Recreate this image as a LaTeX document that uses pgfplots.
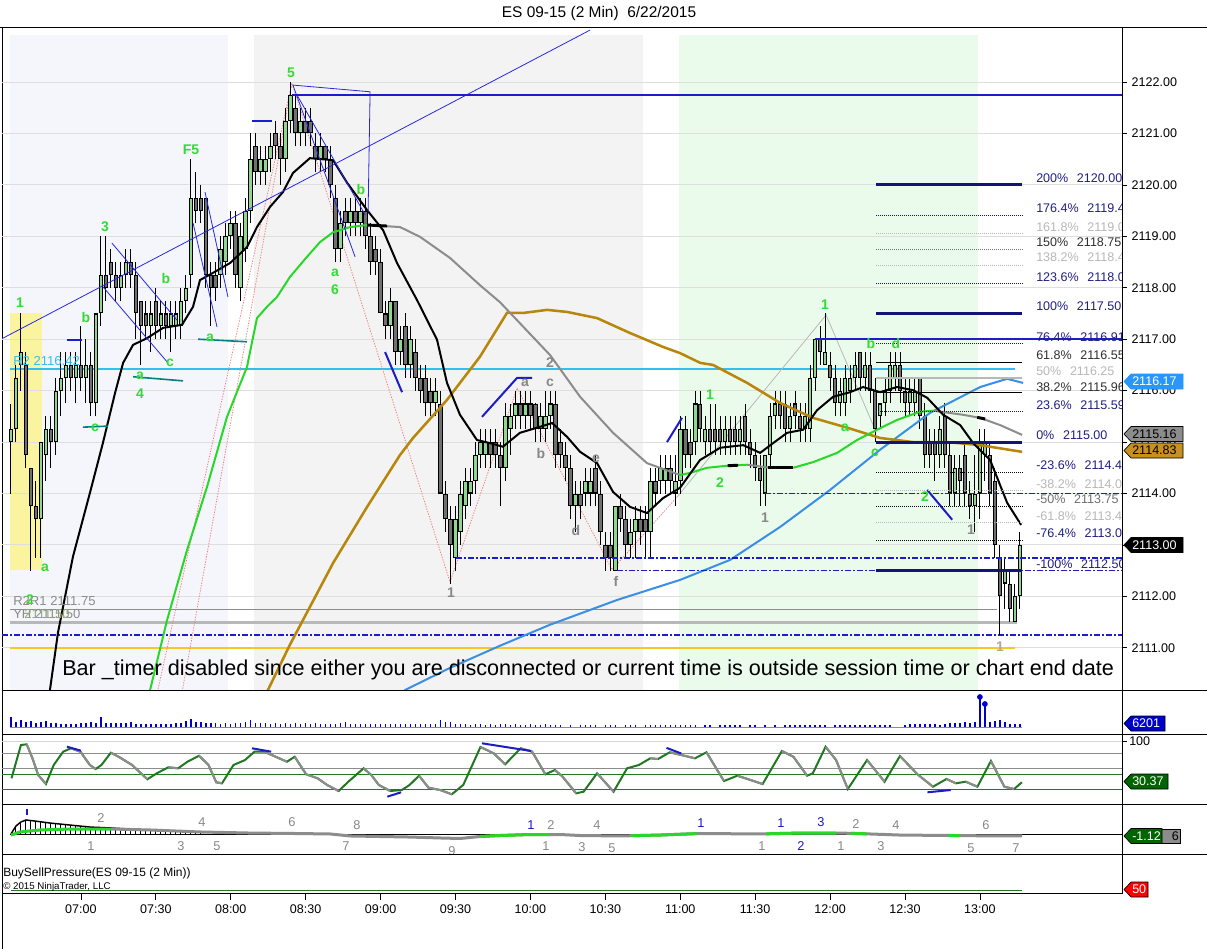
\documentclass[border=0pt]{standalone}
\usepackage{fontspec}
\setmainfont{Liberation Sans}
\usepackage{pgfplots}
\usepackage{pgfplotstable}
\pgfplotsset{compat=1.18}

\definecolor{bglav}{RGB}{244,246,252}
\definecolor{bggray}{RGB}{243,243,243}
\definecolor{bggreen}{RGB}{235,251,235}
\definecolor{bgyel}{RGB}{250,244,160}
\definecolor{cup}{RGB}{144,214,144}
\definecolor{cdn}{RGB}{112,112,112}
\definecolor{gridc}{RGB}{222,222,222}
\definecolor{lblue}{RGB}{51,190,240}
\definecolor{mablue}{RGB}{58,142,230}
\definecolor{brownma}{RGB}{184,134,11}
\definecolor{magreen}{RGB}{40,215,40}
\definecolor{magray}{RGB}{140,140,140}
\definecolor{lvlblue}{RGB}{28,28,200}
\definecolor{navy2}{RGB}{20,20,120}
\definecolor{navyt}{RGB}{32,32,130}
\definecolor{annG}{RGB}{50,220,50}
\definecolor{annGr}{RGB}{136,136,136}
\definecolor{oscg}{RGB}{34,120,34}
\definecolor{teal2}{RGB}{0,128,128}
\definecolor{pinkd}{RGB}{240,130,130}
\definecolor{gold2}{RGB}{245,200,40}
\definecolor{lgr}{RGB}{184,184,184}
\definecolor{dgr}{RGB}{48,48,48}
\definecolor{mgr}{RGB}{112,112,112}
\definecolor{thinblue}{RGB}{40,40,224}
\definecolor{volblue}{RGB}{0,0,204}
\definecolor{tagblue}{RGB}{40,150,250}
\definecolor{taggold}{RGB}{200,144,30}
\definecolor{taggreen}{RGB}{0,100,0}
\definecolor{digblue}{RGB}{24,24,200}

\newcommand\tf{\fontsize{9.4}{11}\selectfont}
\newcommand\af{\fontsize{10.5}{12}\selectfont\bfseries}
\newcommand\df{\fontsize{9.6}{11}\selectfont}

\pgfplotsset{panel/.style={scale only axis, width=840pt, xmin=388.4, xmax=836.9,
  anchor=north west, axis line style={line width=0.75pt, black}, xtick=\empty, ytick=\empty, clip=true},
  dd/.style={dash pattern=on 4.5pt off 1.5pt on 1.5pt off 1.5pt, line width=1.1pt, lvlblue},
  dots/.style={dash pattern=on 0.75pt off 0.75pt, line width=0.75pt},
  ebar/.style 2 args={draw=none, mark=none, error bars/.cd, y dir=plus, y explicit, error mark=none,
    error bar style={draw=#2, line width=#1, solid}}}

\pgfplotstableread{
t O H L C
392 2115.00 2115.75 2114.00 2115.25
394 2115.25 2116.50 2115.00 2116.25
396 2116.50 2117.50 2116.00 2116.75
398 2116.50 2116.75 2114.50 2114.75
400 2114.50 2114.50 2112.50 2113.75
402 2113.75 2114.25 2112.75 2113.50
404 2113.50 2115.00 2112.75 2115.00
406 2114.75 2115.50 2114.25 2115.25
408 2115.25 2115.50 2114.50 2115.00
410 2115.00 2116.25 2114.75 2116.00
412 2116.00 2116.75 2115.50 2116.25
414 2116.25 2116.75 2115.75 2116.50
416 2116.50 2116.75 2116.00 2116.25
418 2116.25 2116.75 2115.75 2116.50
420 2116.50 2117.25 2116.00 2116.25
422 2116.25 2117.00 2115.75 2116.50
424 2116.50 2116.75 2115.50 2115.75
426 2115.75 2117.50 2115.50 2117.50
428 2117.50 2119.00 2117.25 2118.25
430 2118.25 2119.00 2117.75 2118.00
432 2118.50 2118.75 2118.00 2118.25
434 2118.25 2118.50 2117.75 2118.00
436 2118.00 2118.50 2117.75 2118.25
438 2118.25 2118.75 2118.00 2118.50
440 2118.50 2118.75 2118.00 2118.25
442 2118.25 2118.50 2117.00 2117.50
444 2117.75 2117.75 2116.50 2117.25
446 2117.50 2117.75 2117.00 2117.25
448 2117.25 2117.75 2116.75 2117.50
450 2117.75 2118.00 2117.00 2117.25
452 2117.25 2117.75 2117.00 2117.50
454 2117.50 2117.75 2117.00 2117.25
456 2117.25 2117.75 2116.75 2117.50
458 2117.25 2117.75 2117.00 2117.50
460 2117.25 2118.00 2117.00 2117.75
462 2117.75 2118.25 2117.50 2118.00
464 2118.25 2120.50 2118.00 2119.75
466 2119.75 2120.25 2119.25 2119.50
468 2119.75 2120.00 2119.25 2119.50
470 2119.75 2119.75 2118.00 2118.25
472 2118.25 2118.50 2117.25 2118.00
474 2118.25 2118.50 2117.75 2118.00
476 2118.25 2119.00 2118.00 2118.75
478 2118.50 2119.25 2118.25 2119.00
480 2119.00 2119.50 2118.75 2119.25
482 2119.25 2119.50 2118.00 2118.25
484 2118.00 2119.25 2117.75 2119.00
486 2118.75 2119.75 2118.50 2119.50
488 2119.50 2121.00 2119.25 2120.50
490 2120.75 2121.00 2120.00 2120.25
492 2120.25 2120.75 2120.00 2120.50
494 2120.25 2120.75 2120.00 2120.50
496 2120.50 2121.00 2120.25 2120.75
498 2121.00 2121.25 2120.50 2120.75
500 2120.75 2121.00 2120.00 2120.50
502 2120.50 2121.50 2120.25 2121.25
504 2121.25 2122.00 2121.00 2121.75
506 2121.50 2121.75 2120.75 2121.00
508 2121.00 2121.50 2120.75 2121.25
510 2121.25 2121.50 2120.75 2121.00
512 2121.25 2121.50 2120.75 2121.00
514 2120.75 2121.00 2120.25 2120.50
516 2120.50 2121.00 2120.25 2120.75
518 2120.75 2120.75 2120.25 2120.50
520 2120.50 2120.75 2119.75 2120.00
522 2119.75 2120.00 2118.50 2118.75
524 2118.75 2119.50 2118.50 2119.25
526 2119.50 2119.75 2119.00 2119.25
528 2119.25 2119.75 2119.00 2119.50
530 2119.50 2119.75 2119.00 2119.25
532 2119.25 2119.75 2119.00 2119.50
534 2119.50 2119.75 2118.75 2119.00
536 2119.00 2119.25 2118.25 2118.50
538 2118.75 2119.00 2118.25 2118.50
540 2118.50 2118.75 2117.50 2117.50
542 2117.50 2117.75 2117.00 2117.25
544 2117.25 2118.00 2117.00 2117.75
546 2117.75 2117.75 2116.50 2116.75
548 2116.75 2117.25 2116.50 2117.00
550 2117.25 2117.50 2116.25 2116.50
552 2116.50 2117.25 2116.25 2117.00
554 2116.75 2117.00 2116.00 2116.25
556 2116.25 2116.50 2115.75 2116.00
558 2116.25 2116.50 2115.50 2115.75
560 2116.00 2116.25 2115.50 2115.75
562 2115.75 2116.25 2115.50 2116.00
564 2115.75 2116.00 2114.00 2114.00
566 2114.00 2114.25 2113.25 2113.50
568 2113.50 2113.75 2112.25 2113.00
570 2112.75 2113.75 2112.50 2113.50
572 2113.25 2114.25 2113.00 2114.00
574 2113.75 2114.50 2113.50 2114.25
576 2114.00 2114.50 2113.75 2114.25
578 2114.25 2115.00 2114.00 2114.75
580 2114.75 2115.25 2114.50 2115.00
582 2114.75 2115.25 2114.50 2115.00
584 2115.00 2115.25 2114.50 2114.75
586 2115.00 2115.25 2114.50 2114.75
588 2114.75 2115.00 2113.75 2114.50
590 2114.50 2115.75 2114.25 2115.50
592 2115.25 2115.75 2114.75 2115.50
594 2115.50 2116.00 2115.25 2115.75
596 2115.75 2116.00 2115.25 2115.50
598 2115.50 2116.00 2115.25 2115.75
600 2115.75 2116.00 2115.25 2115.50
602 2115.75 2115.75 2115.00 2115.25
604 2115.25 2115.75 2115.00 2115.50
606 2115.25 2116.00 2115.00 2115.50
608 2115.50 2116.00 2115.25 2115.75
610 2115.75 2116.00 2114.50 2114.75
612 2115.00 2115.25 2114.50 2114.75
614 2114.75 2115.00 2114.25 2114.50
616 2114.50 2114.75 2113.50 2113.75
618 2113.75 2114.25 2113.25 2114.00
620 2114.00 2114.25 2113.50 2113.75
622 2114.00 2114.50 2113.75 2114.25
624 2114.00 2114.50 2113.75 2114.25
626 2114.50 2114.75 2113.75 2114.00
628 2114.00 2114.25 2113.00 2113.25
630 2113.00 2113.25 2112.50 2112.75
632 2113.00 2113.25 2112.50 2112.75
634 2112.50 2113.75 2112.50 2113.75
636 2113.75 2114.00 2113.25 2113.50
638 2113.50 2113.75 2112.75 2113.00
640 2113.00 2113.50 2112.75 2113.25
642 2113.25 2113.75 2112.75 2113.50
644 2113.50 2113.75 2113.00 2113.25
646 2113.50 2113.75 2112.75 2113.25
648 2113.25 2114.50 2112.75 2114.25
650 2114.25 2114.50 2113.75 2114.00
652 2114.25 2114.75 2114.00 2114.50
654 2114.25 2114.75 2114.00 2114.50
656 2114.50 2114.75 2114.00 2114.25
658 2114.00 2114.75 2113.75 2114.25
660 2114.25 2115.50 2114.00 2115.25
662 2115.25 2115.50 2114.50 2114.75
664 2115.00 2115.25 2114.50 2114.75
666 2115.00 2116.00 2114.75 2115.75
668 2115.75 2116.00 2115.00 2115.25
670 2115.00 2115.50 2114.75 2115.25
672 2115.25 2115.75 2114.75 2115.00
674 2115.25 2115.75 2114.75 2115.00
676 2115.25 2115.50 2114.75 2115.00
678 2115.00 2115.50 2114.75 2115.25
680 2115.25 2115.50 2114.75 2115.00
682 2115.25 2115.50 2114.75 2115.00
684 2115.00 2115.50 2114.75 2115.25
686 2115.50 2115.75 2114.75 2115.00
688 2115.00 2115.25 2114.50 2114.75
690 2114.75 2115.00 2114.25 2114.50
692 2114.50 2114.75 2113.75 2114.25
694 2114.00 2114.75 2113.75 2114.75
696 2114.75 2115.75 2114.50 2115.50
698 2115.50 2116.00 2115.25 2115.75
700 2115.75 2116.00 2115.25 2115.50
702 2115.75 2116.00 2115.00 2115.25
704 2115.25 2115.75 2115.00 2115.50
706 2115.75 2116.00 2115.25 2115.50
708 2115.50 2115.75 2115.00 2115.25
710 2115.25 2115.75 2115.00 2115.50
712 2115.25 2116.50 2115.00 2116.25
714 2116.25 2117.00 2116.00 2117.00
716 2117.00 2117.25 2116.50 2116.75
718 2116.50 2117.50 2116.50 2116.75
720 2116.50 2116.75 2116.00 2116.25
722 2116.25 2116.50 2115.50 2115.75
724 2115.75 2116.25 2115.50 2116.00
726 2115.75 2116.50 2115.50 2116.25
728 2116.00 2116.50 2115.75 2116.25
730 2116.25 2116.75 2116.00 2116.50
732 2116.75 2116.75 2116.00 2116.25
734 2116.25 2116.75 2116.00 2116.50
736 2116.50 2116.75 2115.75 2116.00
738 2116.00 2116.25 2115.00 2115.25
740 2115.50 2115.75 2115.25 2115.75
742 2115.75 2116.25 2115.50 2116.00
744 2116.00 2116.75 2115.75 2116.50
746 2116.25 2116.75 2116.00 2116.50
748 2116.50 2116.75 2115.75 2116.00
750 2116.00 2116.25 2115.50 2115.75
752 2115.75 2116.25 2115.50 2116.00
754 2115.75 2116.25 2115.50 2116.00
756 2116.25 2116.25 2115.25 2115.50
758 2115.50 2115.75 2114.50 2114.75
760 2115.00 2115.25 2114.50 2114.75
762 2115.00 2115.25 2114.25 2114.75
764 2114.75 2115.50 2114.50 2115.25
766 2115.50 2115.75 2114.50 2114.75
768 2114.75 2115.00 2113.75 2114.00
770 2114.00 2114.75 2113.75 2114.50
772 2114.50 2114.75 2113.75 2114.25
774 2114.75 2115.00 2113.75 2114.00
776 2114.00 2114.25 2113.50 2113.75
778 2113.75 2114.75 2113.25 2114.00
780 2114.00 2115.25 2113.50 2115.00
782 2114.75 2115.25 2114.25 2115.00
784 2114.75 2115.00 2113.75 2114.00
786 2114.25 2114.50 2112.75 2113.00
788 2112.75 2113.00 2111.25 2112.00
790 2112.25 2112.75 2111.75 2112.50
792 2112.25 2112.50 2111.50 2111.75
794 2111.50 2112.25 2111.50 2112.00
796 2112.00 2113.25 2111.75 2113.00
}\bars

\pgfplotstableread{
t V
392 17700
394 8850
396 12390
398 8850
400 10620
402 7080
404 8850
406 10620
408 7080
410 7080
412 5310
414 5310
416 5310
418 5310
420 7080
422 7080
424 8850
426 7080
428 17700
430 7080
432 7080
434 7080
436 7080
438 7080
440 8850
442 5310
444 5310
446 5310
448 5310
450 5310
452 5310
454 5310
456 5310
458 7080
460 7080
462 10620
464 14160
466 8850
468 8850
470 7080
472 7080
474 7080
476 5310
478 7080
480 5310
482 7080
484 7080
486 8850
488 12390
490 7080
492 7080
494 7080
496 5310
498 7080
500 5310
502 7080
504 5310
506 7080
508 5310
510 7080
512 5310
514 7080
516 5310
518 5310
520 5310
522 5310
524 7080
526 8850
528 5310
530 5310
532 5310
534 5310
536 5310
538 5310
540 5310
542 5310
544 5310
546 5310
548 5310
550 5310
552 5310
554 5310
556 5310
558 5310
560 5310
562 5310
564 12390
566 8850
568 8850
570 5310
572 5310
574 5310
576 3540
578 5310
580 5310
582 3540
584 5310
586 3540
588 5310
590 5310
592 3540
594 5310
596 3540
598 3540
600 5310
602 3540
604 3540
606 5310
608 3540
610 3540
612 3540
614 0
616 3540
618 0
620 3540
622 3540
624 3540
626 3540
628 0
630 3540
632 3540
634 3540
636 0
638 3540
640 3540
642 3540
644 0
646 3540
648 3540
650 3540
652 3540
654 3540
656 3540
658 3540
660 3540
662 3540
664 3540
666 3540
668 0
670 3540
672 3540
674 0
676 3540
678 3540
680 3540
682 3540
684 3540
686 0
688 3540
690 3540
692 0
694 3540
696 0
698 3540
700 0
702 3540
704 3540
706 3540
708 3540
710 3540
712 3540
714 3540
716 3540
718 3540
720 0
722 3540
724 3540
726 3540
728 3540
730 3540
732 3540
734 3540
736 3540
738 3540
740 3540
742 3540
744 3540
746 0
748 0
750 3540
752 5310
754 5310
756 5310
758 5310
760 5310
762 5310
764 3540
766 5310
768 7080
770 7080
772 7080
774 8850
776 7080
778 8850
780 53100
782 40710
784 8850
786 10620
788 12390
790 8850
792 5310
794 5310
796 6201
}\vol

\newcommand\gl[3]{\node[text=annG, font=\af, inner sep=0] at (#1,-#2) {#3};}
\newcommand\grl[3]{\node[text=annGr, font=\af, inner sep=0] at (#1,-#2) {#3};}
\newcommand\dg[4]{\node[text=#4, font=\df, inner sep=0] at (#1,-#2) {#3};}
\newcommand\ptag[6]{%
  \filldraw[fill=#3, draw=#6, line width=0.5pt] (1124,-#1) -- (1131,-#1+7.5) -- (#2,-#1+7.5) -- (#2,-#1-7.5) -- (1131,-#1-7.5) -- cycle;
  \node[text=#4, font=\tf, anchor=west, inner sep=0] at (1132,-#1) {#5};}
\newcommand\fl[4]{\node[text=#3, font=\tf, anchor=west, inner sep=0] at (1036,-#1) {#2\hspace{6.5pt}#4};}

\begin{document}
\begin{tikzpicture}[x=0.75pt,y=0.75pt]
\path[use as bounding box] (0,0) rectangle (1207,-949);
\fill[white] (0,0) rectangle (1207,-949);

% ================= MAIN PRICE PANEL =================
\begin{axis}[panel, at={(1.5pt,-21pt)}, height=496.5pt, ymin=2110.18, ymax=2123.05,
  ytick={2111,2112,...,2122}, ytick pos=right, yticklabel pos=right, tick align=outside,
  major tick length=3.75pt, tick style={black, line width=0.6pt},
  yticklabel style={font=\tf},
  /pgf/number format/fixed, /pgf/number format/fixed zerofill,
  /pgf/number format/precision=2, /pgf/number format/1000 sep={},
  /pgf/number format/assume math mode=true]
\fill[bglav] (axis cs:391.6,2110.0) rectangle (axis cs:478.9,2122.91);
\fill[bggray] (axis cs:489.3,2110.0) rectangle (axis cs:645.1,2122.91);
\fill[bggreen] (axis cs:659.5,2110.0) rectangle (axis cs:779.3,2122.91);
\fill[bgyel] (axis cs:391.6,2112.51) rectangle (axis cs:404.4,2117.51);
\pgfplotsinvokeforeach{2111,2112,...,2122}{\draw[gridc, line width=0.75pt] (axis cs:388.4,#1) -- (axis cs:836.9,#1);}

% static levels
\addplot[lblue, line width=1.5pt] coordinates {(391.6,2116.42) (794.1,2116.42)};
\addplot[magray, line width=0.75pt] coordinates {(391.6,2111.75) (786.9,2111.75)};
\addplot[color=lgr, line width=2.25pt] coordinates {(391.6,2111.50) (794.9,2111.50)};
\addplot[gold2, line width=1.5pt] coordinates {(391.6,2111.00) (794.1,2111.00)};
\addplot[dd] coordinates {(388.4,2111.25) (836.9,2111.25)};

% pink dotted zigzag and gray thin zigzag
\addplot[pinkd, dash pattern=on 1pt off 1pt, line width=0.6pt] coordinates {(450.0,2110.0) (504.5,2121.98) (567.8,2112.28) (594.7,2116.05) (632.7,2112.52) (658.7,2113.93)};
\addplot[pinkd, dash pattern=on 1pt off 1pt, line width=0.6pt] coordinates {(460.0,2110.0) (504.5,2121.98)};
\addplot[lgr, line width=0.6pt] coordinates {(658.7,2113.93) (718.4,2117.47) (738.4,2115.20)};

% candles: wicks, body outlines, up bodies, down bodies
\addplot[ebar={0.75pt}{black}]
  table[x=t, y=L, y error plus expr={\thisrow{H}-\thisrow{L}}] {\bars};
\addplot[ebar={3.4pt}{black}]
  table[x=t, y expr={min(\thisrow{O},\thisrow{C})}, y error plus expr={abs(\thisrow{C}-\thisrow{O})}] {\bars};
\addplot[ebar={1.9pt}{cup}]
  table[x=t, y expr={\thisrow{O}+0.02}, y error plus expr={max(\thisrow{C}-\thisrow{O}-0.04,0)}] {\bars};
\addplot[ebar={1.9pt}{cdn}]
  table[x=t, y expr={\thisrow{C}+0.02}, y error plus expr={max(\thisrow{O}-\thisrow{C}-0.04,0)}] {\bars};

% moving averages
\addplot[mablue, line width=1.5pt] coordinates {(547.0,2110.0) (549.8,2110.18) (567.8,2110.61) (587.8,2111.04) (607.9,2111.45) (634.7,2111.93) (659.9,2112.32) (680.0,2112.71) (700.0,2113.35) (720.0,2114.07) (740.0,2114.85) (760.1,2115.57) (780.1,2116.07) (790.9,2116.23) (797.3,2116.15)};
\addplot[brownma, line width=1.9pt] coordinates {(493.8,2110.0) (494.9,2110.18) (503.7,2111.06) (521.0,2112.65) (534.6,2113.74) (547.8,2114.75) (553.0,2115.08) (566.6,2115.82) (579.8,2116.66) (590.6,2117.51) (597.1,2117.51) (606.7,2117.57) (614.7,2117.53) (626.7,2117.41) (639.9,2117.12) (653.1,2116.85) (659.9,2116.73) (668.0,2116.54) (673.1,2116.50) (686.8,2116.15) (700.0,2115.76) (713.2,2115.47) (726.8,2115.28) (740.0,2115.08) (753.2,2115.00) (766.9,2115.00) (780.1,2114.94) (796.9,2114.81)};
\addplot[magreen, line width=1.5pt] coordinates {(447.0,2110.0) (447.7,2110.18) (454.5,2111.54) (462.5,2112.90) (470.5,2114.13) (478.5,2115.49) (486.5,2116.46) (490.5,2117.41) (494.5,2117.63) (498.5,2117.82) (503.7,2118.21) (510.5,2118.60) (515.8,2118.89) (521.0,2119.08) (527.8,2119.18) (534.6,2119.22)};
\addplot[magray, line width=1.5pt] coordinates {(534.6,2119.22) (547.8,2119.18) (555.8,2118.99) (567.8,2118.58) (579.8,2118.05) (587.8,2117.72) (607.9,2116.69) (619.9,2115.88) (633.1,2115.18) (646.7,2114.59) (659.9,2114.36)};
\addplot[magreen, line width=1.5pt] coordinates {(659.9,2114.36) (663.9,2114.40) (670.7,2114.50) (678.8,2114.54) (686.8,2114.56)};
\addplot[magray, line width=1.5pt] coordinates {(686.8,2114.56) (696.0,2114.50) (705.2,2114.50)};
\addplot[magreen, line width=1.5pt] coordinates {(705.2,2114.50) (713.2,2114.61) (722.8,2114.79) (730.8,2115.04) (738.8,2115.24) (746.8,2115.43) (756.0,2115.59) (761.3,2115.61)};
\addplot[magray, line width=1.5pt] coordinates {(761.3,2115.61) (773.3,2115.53) (780.1,2115.47) (788.1,2115.33) (796.9,2115.14)};
\addplot[black, line width=2.2pt] coordinates {(534.6,2119.22) (542.6,2119.20)};
\addplot[black, line width=2.2pt] coordinates {(679.0,2114.54) (683.2,2114.55)};
\addplot[black, line width=2.2pt] coordinates {(695.2,2114.50) (705.2,2114.50)};
\addplot[black, line width=2.2pt] coordinates {(778.9,2115.48) (782.1,2115.45)};
\addplot[black, line width=1.5pt] coordinates {(407.0,2110.0) (407.6,2110.18) (410.8,2111.29) (416.8,2112.77) (423.6,2114.01) (428.8,2114.98) (433.7,2115.96) (436.9,2116.54) (440.9,2116.89) (446.5,2117.02) (452.9,2117.22) (460.5,2117.28) (464.9,2117.63) (467.7,2118.15) (472.9,2118.29) (479.7,2118.48) (486.5,2118.79) (490.5,2119.18) (495.7,2119.57) (500.9,2119.86) (504.9,2120.23) (511.7,2120.52) (521.0,2120.48) (526.6,2120.04) (534.6,2119.51) (541.0,2119.12) (546.6,2118.48) (554.6,2117.76) (562.6,2116.99) (566.6,2116.15) (571.8,2115.53) (578.6,2115.04) (583.8,2114.98) (589.0,2114.91) (595.8,2115.18) (602.7,2115.28) (608.7,2115.37) (614.7,2115.10) (619.9,2114.81) (626.7,2114.59) (633.1,2114.03) (639.9,2113.74) (646.7,2113.62) (653.1,2113.91) (659.9,2114.11) (667.9,2114.65) (676.0,2114.89) (685.2,2114.94) (692.0,2114.79) (697.2,2114.98) (702.8,2115.18) (709.2,2115.24) (714.8,2115.62) (721.2,2115.88) (728.0,2115.97) (733.2,2116.07) (740.0,2115.97) (746.8,2116.07) (753.2,2116.01) (758.9,2115.86) (765.3,2115.53) (772.1,2115.33) (777.3,2114.98) (784.1,2114.65) (790.9,2113.82) (796.5,2113.39)};

% thin blue trend lines
\addplot[thinblue, line width=0.6pt] coordinates {(387.6,2116.99) (623.9,2123.01)};
\addplot[thinblue, line width=0.6pt] coordinates {(504.9,2121.94) (535.8,2121.81) (535.0,2119.47)};
\addplot[thinblue, line width=0.6pt] coordinates {(504.9,2121.94) (529.8,2118.60)};
\addplot[thinblue, line width=0.6pt] coordinates {(506.5,2121.75) (533.8,2119.42)};
\addplot[thinblue, line width=0.6pt] coordinates {(432.4,2118.87) (458.5,2117.37)};
\addplot[thinblue, line width=0.6pt] coordinates {(428.8,2118.02) (454.5,2116.56)};
\addplot[thinblue, line width=0.6pt] coordinates {(464.9,2119.26) (474.5,2117.24)};
\addplot[thinblue, line width=0.6pt] coordinates {(469.7,2119.86) (478.9,2117.82)};
% thick blue marks
\addplot[lvlblue, line width=1.5pt] coordinates {(488.5,2121.24) (496.5,2121.24)};
\addplot[lvlblue, line width=1.5pt] coordinates {(414.4,2116.99) (420.4,2116.99)};
\addplot[lvlblue, line width=1.5pt] coordinates {(541.8,2116.75) (548.6,2115.97)};
\addplot[lvlblue, line width=1.5pt] coordinates {(580.6,2115.49) (594.7,2116.25) (600.7,2116.25)};
\addplot[lvlblue, line width=1.5pt] coordinates {(654.7,2115.00) (660.7,2115.47)};
\addplot[lvlblue, line width=1.5pt] coordinates {(758.9,2114.07) (768.9,2113.49)};
% teal marks
\addplot[teal2, line width=1.2pt] coordinates {(466.9,2117.00) (486.5,2116.95)};
\addplot[teal2, line width=1.2pt] coordinates {(440.9,2116.27) (460.9,2116.19)};
\addplot[teal2, line width=1.2pt] coordinates {(420.8,2115.29) (430.8,2115.31)};

% blue levels
\addplot[lvlblue, line width=1.5pt] coordinates {(504.5,2121.75) (836.9,2121.75)};
\addplot[lvlblue, line width=1.5pt] coordinates {(714.0,2117.00) (836.9,2117.00)};
\addplot[dd] coordinates {(570.2,2112.75) (836.9,2112.75)};
\addplot[dd] coordinates {(634.7,2112.50) (836.9,2112.50)};
\addplot[dd] coordinates {(694.0,2114.00) (836.9,2114.00)};

% fibonacci levels
\addplot[navy2, line width=2.25pt] coordinates {(738.4,2120.00) (796.9,2120.00)};
\addplot[navy2, dots] coordinates {(738.4,2119.41) (796.9,2119.41)};
\addplot[lgr, dots] coordinates {(738.4,2119.06) (796.9,2119.06)};
\addplot[mgr, dots] coordinates {(738.4,2118.75) (796.9,2118.75)};
\addplot[lgr, dots] coordinates {(738.4,2118.44) (796.9,2118.44)};
\addplot[navy2, dots] coordinates {(738.4,2118.09) (796.9,2118.09)};
\addplot[navy2, line width=2.25pt] coordinates {(738.4,2117.50) (796.9,2117.50)};
\addplot[navy2, dots] coordinates {(738.4,2116.91) (796.9,2116.91)};
\addplot[black, line width=0.75pt] coordinates {(738.4,2116.55) (796.9,2116.55)};
\addplot[lgr, line width=1.5pt] coordinates {(738.4,2116.25) (796.9,2116.25)};
\addplot[black, line width=0.75pt] coordinates {(738.4,2115.96) (796.9,2115.96)};
\addplot[navy2, dots] coordinates {(738.4,2115.59) (796.9,2115.59)};
\addplot[navy2, line width=2.25pt] coordinates {(738.4,2115.00) (796.9,2115.00)};
\addplot[black, dots] coordinates {(738.4,2114.41) (796.9,2114.41)};
\addplot[lgr, dots] coordinates {(738.4,2114.06) (796.9,2114.06)};
\addplot[black, dots] coordinates {(738.4,2113.75) (796.9,2113.75)};
\addplot[lgr, dots] coordinates {(738.4,2113.44) (796.9,2113.44)};
\addplot[black, dots] coordinates {(738.4,2113.09) (796.9,2113.09)};
\addplot[navy2, line width=2.25pt] coordinates {(738.4,2112.50) (796.9,2112.50)};
\end{axis}

% ================= VOLUME =================
\begin{axis}[panel, at={(1.5pt,-517.5pt)}, height=33pt, ymin=-12390, ymax=65490]
\addplot[magray, line width=0.75pt] coordinates {(391.6,0) (796.9,0)};
\addplot[ebar={1.1pt}{volblue}] table[x=t, y expr=0, y error plus=V] {\vol};
\addplot[only marks, mark=*, mark size=1.9pt, volblue] coordinates {(780,53100) (782,40710)};
\end{axis}

% ================= OSCILLATOR =================
\begin{axis}[panel, at={(1.5pt,-550.5pt)}, height=52.5pt, ymin=-5, ymax=111.7]
\addplot[color={rgb,255:red,215;green,215;blue,215}, line width=0.75pt] coordinates {(388.4,100) (836.9,100)};
\addplot[magray, line width=0.75pt] coordinates {(388.4,80) (836.9,80)};
\addplot[magray, line width=0.75pt] coordinates {(388.4,55) (836.9,55)};
\addplot[oscg, line width=0.75pt] coordinates {(388.4,45) (836.9,45)};
\addplot[oscg, line width=0.75pt] coordinates {(388.4,20) (836.9,20)};
\addplot[oscg, line width=1.5pt] coordinates {(392.2,37.8) (396.0,93.4) (398.3,94.5) (400.6,71.2) (402.9,43.3) (406.0,28.3) (409.1,60.0) (412.9,82.2) (416.0,87.9) (419.8,82.2) (423.6,60.0) (425.9,53.3) (428.2,60.0) (432.0,80.5) (435.1,73.8) (440.5,60.0) (446.6,36.2) (450.4,46.2) (455.0,56.2) (458.9,54.5) (462.7,65.5) (467.3,75.5) (471.1,60.0) (474.2,31.2) (476.5,29.5) (481.1,60.0) (485.7,68.3) (489.5,82.2) (493.4,82.2) (496.4,76.7) (502.5,65.5) (505.6,73.8) (510.2,44.5) (514.8,37.8) (518.6,26.7) (523.2,16.7) (527.1,32.2) (533.2,54.5) (536.3,43.3) (539.3,26.7) (543.9,16.7) (548.5,18.3) (551.6,26.7) (555.4,42.2) (559.2,22.2) (563.9,18.3) (568.5,11.2) (573.1,26.7) (580.0,90.0) (585.3,79.5) (589.9,61.2) (596.1,87.9) (600.7,82.2) (606.0,44.5) (609.8,51.7) (612.9,40.5) (618.3,12.8) (621.3,15.5) (626.7,46.2) (633.3,15.5) (638.7,54.5) (643.4,60.0) (648.0,71.2) (651.1,70.0) (655.8,81.2) (660.4,76.7) (665.9,71.2) (670.5,81.2) (677.5,33.3) (682.9,42.2) (693.0,28.3) (700.7,83.4) (705.3,73.8) (710.8,42.2) (713.1,46.2) (718.2,90.5) (722.4,68.3) (727.1,20.0) (734.8,68.3) (741.8,32.2) (748.0,75.0) (755.0,44.5) (761.2,23.8) (766.6,36.7) (770.4,29.5) (774.3,32.2) (779.0,23.8) (784.4,66.7) (789.8,23.8) (793.7,20.0) (796.8,31.2)};
\pgfplotsset{gseg/.style={magray, line width=1.5pt}}
\addplot[gseg] coordinates {(398.3,94.5) (400.6,71.2) (402.9,43.3) (406.0,28.3)};
\addplot[gseg] coordinates {(416.0,87.9) (419.8,82.2) (423.6,60.0) (425.9,53.3)};
\addplot[gseg] coordinates {(432.0,80.5) (435.1,73.8) (440.5,60.0) (446.6,36.2)};
\addplot[gseg] coordinates {(455.0,56.2) (458.9,54.5)};
\addplot[gseg] coordinates {(467.3,75.5) (471.1,60.0) (474.2,31.2) (476.5,29.5)};
\addplot[gseg] coordinates {(493.4,82.2) (496.4,76.7) (502.5,65.5)};
\addplot[gseg] coordinates {(505.6,73.8) (510.2,44.5) (514.8,37.8) (518.6,26.7) (523.2,16.7)};
\addplot[gseg] coordinates {(533.2,54.5) (536.3,43.3) (539.3,26.7) (543.9,16.7)};
\addplot[gseg] coordinates {(555.4,42.2) (559.2,22.2) (563.9,18.3) (568.5,11.2)};
\addplot[gseg] coordinates {(580.0,90.0) (585.3,79.5) (589.9,61.2)};
\addplot[gseg] coordinates {(596.1,87.9) (600.7,82.2) (606.0,44.5)};
\addplot[gseg] coordinates {(609.8,51.7) (612.9,40.5) (618.3,12.8)};
\addplot[gseg] coordinates {(626.7,46.2) (633.3,15.5)};
\addplot[gseg] coordinates {(648.0,71.2) (651.1,70.0)};
\addplot[gseg] coordinates {(655.8,81.2) (660.4,76.7) (665.9,71.2)};
\addplot[gseg] coordinates {(670.5,81.2) (677.5,33.3)};
\addplot[gseg] coordinates {(682.9,42.2) (693.0,28.3)};
\addplot[gseg] coordinates {(700.7,83.4) (705.3,73.8) (710.8,42.2)};
\addplot[gseg] coordinates {(718.2,90.5) (722.4,68.3) (727.1,20.0)};
\addplot[gseg] coordinates {(734.8,68.3) (741.8,32.2)};
\addplot[gseg] coordinates {(748.0,75.0) (755.0,44.5) (761.2,23.8)};
\addplot[gseg] coordinates {(766.6,36.7) (770.4,29.5)};
\addplot[gseg] coordinates {(774.3,32.2) (779.0,23.8)};
\addplot[gseg] coordinates {(784.4,66.7) (789.8,23.8) (793.7,20.0)};
\addplot[lvlblue, line width=1.5pt] coordinates {(414.4,90.6) (420.0,83.9)};
\addplot[lvlblue, line width=1.5pt] coordinates {(488.5,87.9) (496.2,82.2)};
\addplot[lvlblue, line width=1.5pt] coordinates {(542.7,7.2) (548.2,14.5)};
\addplot[lvlblue, line width=1.5pt] coordinates {(580.6,96.2) (600.3,83.4)};
\addplot[lvlblue, line width=1.5pt] coordinates {(654.5,88.6) (660.4,79.2)};
\addplot[lvlblue, line width=1.5pt] coordinates {(759.0,14.5) (768.3,18.3)};
\end{axis}

% ================= THIRD PANEL =================
\begin{axis}[panel, at={(1.5pt,-603pt)}, height=37.5pt, ymin=-14.625, ymax=22.875]
\addplot[black, line width=0.75pt] coordinates {(391.6,0) (836.9,0)};
\addplot[ebar={0.75pt}{black}] coordinates {
(394,0) +- (0,6.4) (396,0) +- (0,9.4) (398,0) +- (0,10.9) (400,0) +- (0,10.5) (402,0) +- (0,10.0)
(404,0) +- (0,9.5) (406,0) +- (0,9.0) (408,0) +- (0,8.6) (410,0) +- (0,8.3) (412,0) +- (0,8.0)
(414,0) +- (0,7.6) (416,0) +- (0,7.1) (418,0) +- (0,6.8) (420,0) +- (0,6.5) (422,0) +- (0,6.2)
(424,0) +- (0,5.6) (426,0) +- (0,5.4) (428,0) +- (0,5.2) (430,0) +- (0,5.0) (432,0) +- (0,4.9)
(434,0) +- (0,4.7) (436,0) +- (0,4.5) (438,0) +- (0,4.3) (440,0) +- (0,4.1) (442,0) +- (0,4.0)
(444,0) +- (0,3.8) (446,0) +- (0,3.6) (448,0) +- (0,3.4) (450,0) +- (0,3.2) (452,0) +- (0,3.0)
(454,0) +- (0,2.9) (456,0) +- (0,2.7) (458,0) +- (0,2.5) (460,0) +- (0,2.4) (462,0) +- (0,2.2)
(464,0) +- (0,2.1) (466,0) +- (0,2.0) (468,0) +- (0,1.9)};
\addplot[black, line width=1.1pt] coordinates {(392,0.4) (394,6.4) (396,9.4) (398,10.9) (401.6,10.1) (407.6,8.6) (415.6,7.1) (423.6,5.6) (432,4.9) (439.7,4.1)};
\addplot[magray, line width=2.25pt] coordinates {(432.0,4.1) (447.7,3.4) (467.7,1.9) (487.7,1.1) (503.7,0.8) (519.8,0.4) (527.8,-1.1) (539.8,-1.5) (551.8,-1.9) (563.8,-2.6) (571.8,-3.0) (579.8,-1.5) (587.8,-0.75) (599.9,0) (611.9,0) (619.9,-0.75) (635.9,-1.1) (651.9,-0.4) (667.9,0.75) (691.9,0.4) (708.0,1.1) (724.0,1.1) (736.0,0.4) (748.0,-0.4) (768.1,-0.75) (788.1,-1.1) (796.9,-1.1)};
\addplot[magreen, line width=2.25pt] coordinates {(392,-0.4) (395.6,1.9) (403.6,3.4) (415.6,4.1) (432,4.1)};
\addplot[magreen, line width=2.25pt] coordinates {(579.8,-1.5) (587.8,-0.75) (599.9,0) (607.9,0)};
\addplot[magreen, line width=2.25pt] coordinates {(640.3,-0.9) (651.9,-0.4) (666.7,0.7)};
\addplot[magreen, line width=2.25pt] coordinates {(694.4,0.5) (708.0,1.1) (722.4,1.1)};
\addplot[magreen, line width=2.25pt] coordinates {(728.4,0.9) (734.8,0.5)};
\addplot[magreen, line width=2.25pt] coordinates {(767.3,-0.7) (772.1,-0.8)};
\end{axis}

% ================= BUY SELL PRESSURE =================
\begin{axis}[panel, at={(1.5pt,-640.5pt)}, height=29.25pt, ymin=47, ymax=86,
  xtick={420,450,...,780},
  xticklabels={07:00,07:30,08:00,08:30,09:00,09:30,10:00,10:30,11:00,11:30,12:00,12:30,13:00},
  xtick pos=bottom, tick align=outside, major tick length=5.25pt,
  tick style={black, line width=0.6pt}, xticklabel style={font=\tf}]
\addplot[oscg, line width=0.75pt] coordinates {(392,50) (796.9,50)};
\end{axis}

% ================= FRAME EXTRAS =================
\draw[line width=0.75pt] (0,-27.5) -- (1207,-27.5);
\draw[line width=0.75pt] (2,-893) -- (2,-949);
\foreach \yy in {690,734,804,854} {\draw[line width=0.75pt] (1122,-\yy) -- (1207,-\yy);}
\draw[line width=0.6pt] (1122,-741) -- (1127,-741);
\node[font=\tf, anchor=west, inner sep=0] at (1129,-741) {100};

% title
\node[font=\fontsize{11.6}{13}\selectfont, inner sep=0] at (599,-13) {ES 09-15 (2 Min)\ \ 6/22/2015};

% left texts
\node[text=lblue, font=\fontsize{9.8}{11}\selectfont, anchor=west, inner sep=0] at (13,-361) {R2 2116.42};
\node[text=magray, font=\fontsize{9.8}{11}\selectfont, anchor=west, inner sep=0] at (13,-601) {R2R1 2111.75};
\node[text=magray, font=\fontsize{9.8}{11}\selectfont, anchor=west, inner sep=0] at (13,-614) {YH 2111.50};
\node[text={rgb,255:red,150;green,170;blue,120}, font=\fontsize{9.8}{11}\selectfont, anchor=west, inner sep=0] at (24,-614) {2111.50};

% annotations main
\gl{20}{303}{1} \gl{45}{568}{a} \gl{30}{600}{2} \gl{86}{317}{b} \gl{95}{428}{c}
\gl{105}{227}{3} \gl{166}{278}{b} \gl{140}{376}{a} \gl{140}{394}{4} \gl{170}{363}{c}
\gl{210}{338}{a} \gl{191}{150}{F5} \gl{291}{73}{5} \gl{361}{189}{b} \gl{335}{273}{a}
\gl{335}{290}{6} \gl{710}{395}{1} \gl{720}{483}{2} \gl{825}{305}{1} \gl{871}{343}{b}
\gl{896}{343}{d} \gl{845}{428}{a} \gl{875}{453}{c} \gl{925}{497}{2}
\grl{451}{593}{1} \grl{550}{363}{2} \grl{525}{383}{a} \grl{550}{383}{c} \grl{541}{453}{b}
\grl{596}{459}{e} \grl{576}{530}{d} \grl{616}{581}{f} \grl{765}{518}{1} \grl{971}{530}{1}
\node[text={rgb,255:red,176;green,170;blue,140}, font=\af, inner sep=0] at (1000,-647) {1};

% bar timer message
\node[font=\fontsize{16.2}{18}\selectfont, anchor=base west, inner sep=0] at (62,-675) {Bar \_timer disabled since either you are disconnected or current time is outside session time or chart end date};

% fib labels (clipped at panel edge)
\begin{scope}
\clip (1030,-150) rectangle (1121.4,-600);
\fl{178}{200\%}{navyt}{2120.00}
\fl{208}{176.4\%}{navyt}{2119.41}
\fl{227}{161.8\%}{lgr}{2119.06}
\fl{242}{150\%}{dgr}{2118.75}
\fl{257}{138.2\%}{lgr}{2118.44}
\fl{277}{123.6\%}{navyt}{2118.09}
\fl{306}{100\%}{navyt}{2117.50}
\fl{337}{76.4\%}{navyt}{2116.91}
\fl{355}{61.8\%}{dgr}{2116.55}
\fl{371}{50\%}{lgr}{2116.25}
\fl{387}{38.2\%}{dgr}{2115.96}
\fl{405}{23.6\%}{navyt}{2115.59}
\fl{435}{0\%}{navyt}{2115.00}
\fl{465}{-23.6\%}{navyt}{2114.41}
\fl{484}{-38.2\%}{lgr}{2114.06}
\fl{499}{-50\%}{mgr}{2113.75}
\fl{516}{-61.8\%}{lgr}{2113.44}
\fl{533}{-76.4\%}{navyt}{2113.09}
\fl{564}{-100\%}{navyt}{2112.50}
\end{scope}

% third panel digits
\begin{scope}
\clip (3,-805) rectangle (1121,-853.5);
\draw[digblue, line width=1pt] (27,-809) -- (27,-815);
\dg{101}{818}{2}{annGr} \dg{91}{846}{1}{annGr} \dg{202}{822}{4}{annGr} \dg{181}{846}{3}{annGr}
\dg{217}{846}{5}{annGr} \dg{292}{822}{6}{annGr} \dg{357}{825}{8}{annGr} \dg{346}{846}{7}{annGr}
\dg{452}{851}{9}{annGr} \dg{531}{825}{1}{digblue} \dg{551}{825}{2}{annGr} \dg{546}{846}{1}{annGr}
\dg{582}{847}{3}{annGr} \dg{597}{825}{4}{annGr} \dg{612}{848}{5}{annGr} \dg{701}{823}{1}{digblue}
\dg{781}{823}{1}{digblue} \dg{821}{822}{3}{digblue} \dg{856}{824}{2}{annGr} \dg{896}{825}{4}{annGr}
\dg{986}{825}{6}{annGr} \dg{762}{846}{1}{annGr} \dg{801}{846}{2}{digblue} \dg{841}{846}{1}{annGr}
\dg{881}{846}{3}{annGr} \dg{971}{848}{5}{annGr} \dg{1016}{848}{7}{annGr}
\end{scope}

% BSP texts
\node[font=\fontsize{9}{10}\selectfont, anchor=west, inner sep=0] at (3,-873) {BuySellPressure(ES 09-15 (2 Min))};
\node[font=\fontsize{7.3}{8}\selectfont, anchor=west, inner sep=0] at (3,-887) {\textcopyright{} 2015 NinjaTrader, LLC};

% right tags
\ptag{381.5}{1183}{tagblue}{white}{2116.17}{tagblue}
\ptag{434}{1183}{magray}{black}{2115.16}{black}
\ptag{450.5}{1183}{taggold}{black}{2114.83}{black}
\ptag{545}{1183}{black}{white}{2113.00}{black}
\ptag{723.5}{1165}{volblue}{white}{6201}{black}
\ptag{781.5}{1168}{taggreen}{white}{30.37}{black}
\filldraw[fill=magray, draw=black, line width=0.5pt] (1158,-829) rectangle (1180,-843);
\node[font=\tf, anchor=east, inner sep=0] at (1179,-836) {6};
\ptag{836}{1162}{taggreen}{white}{-1.12}{black}
\ptag{889.5}{1148}{red}{white}{50}{black}
\end{tikzpicture}
\end{document}
